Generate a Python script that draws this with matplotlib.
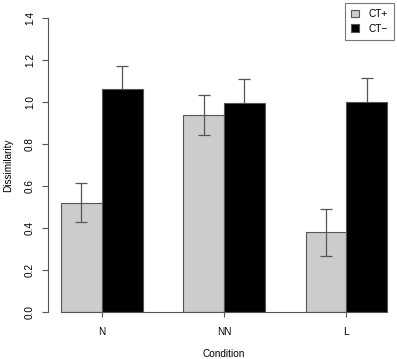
import matplotlib
matplotlib.use("Agg")
import matplotlib.pyplot as plt
from matplotlib.patches import Patch
import numpy as np

plt.rcParams['font.family'] = ['Liberation Sans', 'DejaVu Sans']

conditions = ["N", "NN", "L"]
series_names = ["CT+", "CT\u2212"]
ct_plus = [0.52, 0.937, 0.379]
ct_plus_se = [0.092, 0.096, 0.112]
ct_minus = [1.061, 0.997, 1.002]
ct_minus_se = [0.113, 0.113, 0.114]
yticks = [0.0, 0.2, 0.4, 0.6, 0.8, 1.0, 1.2, 1.4]

FS = 7.2
W, H = 397, 359
fig = plt.figure(figsize=(W / 100, H / 100), dpi=100)
px = 40.75  # pixels per x unit
x0 = 0.68
left_px = 48.0
bottom_px = 311.7
top_px = 18.3
ax = fig.add_axes([left_px / W, (H - bottom_px) / H, (W - left_px) / W, (bottom_px - top_px) / H])
ax.set_xlim(x0, x0 + (W - left_px) / px)
ax.set_ylim(0, 1.4)

# R barplot beside=TRUE positions: bars width 1, space c(0,1)
g = np.arange(len(conditions))
x_plus = 1 + 3 * g + 0.5
x_minus = 2 + 3 * g + 0.5
edge = "#555555"
ax.bar(x_plus, ct_plus, width=1.0, color="#cccccc", edgecolor=edge, linewidth=0.8, zorder=2)
ax.bar(x_minus, ct_minus, width=1.0, color="black", edgecolor=edge, linewidth=0.8, zorder=4)
errkw = dict(fmt="none", ecolor="#555555", elinewidth=0.9, capsize=4.5, capthick=0.9)
ax.errorbar(x_plus, ct_plus, yerr=ct_plus_se, zorder=3, **errkw)
ax.errorbar(x_minus, ct_minus, yerr=ct_minus_se, zorder=3, **errkw)

for s in ["top", "right"]:
    ax.spines[s].set_visible(False)
ax.spines["left"].set_bounds(0, 1.4)
ax.spines["bottom"].set_bounds(1, 9)
for s in ["left", "bottom"]:
    ax.spines[s].set_color("#555555")
    ax.spines[s].set_linewidth(0.8)
    ax.spines[s].set_zorder(5)

ax.set_yticks(yticks)
ax.set_yticklabels([f"{v:.1f}" for v in yticks], rotation=90, va="center", fontsize=FS)
ax.set_xticks(2 + 3 * g)
ax.set_xticklabels(conditions, fontsize=FS)
ax.tick_params(axis="y", length=4.5, width=0.8, color="#555555", pad=5)
ax.tick_params(axis="x", length=3.8, width=0.8, color="#555555", pad=7)

fig.text(8 / W, 1 - 165 / H, "Dissimilarity", rotation=90, ha="center", va="center", fontsize=FS)
fig.text(224 / W, 1 - 354 / H, "Condition", ha="center", va="center", fontsize=FS)

handles = [Patch(facecolor="#cccccc", edgecolor=edge, linewidth=0.8),
           Patch(facecolor="black", edgecolor=edge, linewidth=0.8)]
leg = fig.legend(handles, series_names, loc="upper right", bbox_to_anchor=(394 / W, 1 - 3 / H),
                 fontsize=FS, frameon=True, fancybox=False, handlelength=0.8, handleheight=0.8,
                 borderpad=0.6, labelspacing=0.45, handletextpad=1.0, borderaxespad=0)
leg.get_frame().set_edgecolor("#555555")
leg.get_frame().set_linewidth(0.8)

fig.savefig("out.png", dpi=100)
